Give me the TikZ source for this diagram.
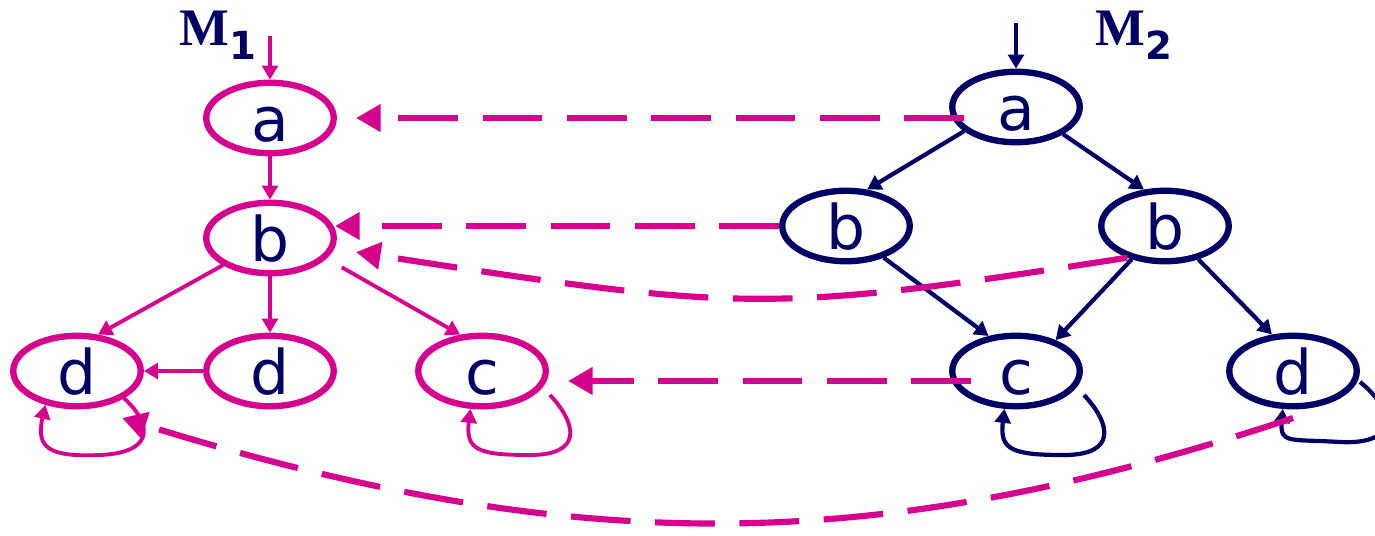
\documentclass[tikz,border=0pt]{standalone}
\usepackage{fontspec}
\setmainfont{Liberation Serif}
\newfontfamily\statefont{DejaVu Sans}
\usetikzlibrary{shapes.geometric,arrows.meta}
\definecolor{kmag}{RGB}{214,0,143}
\definecolor{knavy}{RGB}{0,0,100}

\begin{document}
\begin{tikzpicture}[x=0.02cm,y=-0.02cm,
        state/.style={ellipse,line width=3.6pt,minimum width=2.55cm,minimum height=1.41cm,inner sep=0pt,
            text height=27pt,text depth=0pt,text=knavy,font=\statefont\fontsize{35}{35}\selectfont},
        lstate/.style={state,draw=kmag},
        rstate/.style={state,draw=knavy},
        ledge/.style={kmag,line width=2.2pt,-{Triangle[length=8pt,width=9pt]}},
        redge/.style={knavy,line width=2.4pt,-{Triangle[length=8pt,width=9pt]}},
        match/.style={kmag,line width=3.5pt,dash pattern=on 34pt off 14pt,-{Triangle[length=14pt,width=15pt]}},
        mlabel/.style={anchor=base west,text=knavy,inner sep=0pt,font=\bfseries\fontsize{30}{30}\selectfont}]
    \useasboundingbox (0,0) rectangle (1375,535);
    \clip (0,0) rectangle (1375,535);

    % the two machines
    \foreach \n/\x/\y/\t in {la/270/118/a,lb/270/238/b,ld1/77/371/d,ld2/270/371/d,lc/482/371/c}
        \node[lstate] (\n) at (\x,\y) {\t};
    \foreach \n/\x/\y/\t in {ra/1016/107/a,rb1/846/226/b,rb2/1165/226/b,rc/1016/371/c,rd/1293/371/d}
        \node[rstate] (\n) at (\x,\y) {\t};

    \node[mlabel] (m1) at (179,45) {M\raisebox{-8.5pt}{\statefont\fontsize{22}{22}\selectfont 1}};
    \node[mlabel] (m2) at (1095,45) {M\raisebox{-8.5pt}{\statefont\fontsize{22}{22}\selectfont 2}};
    \coordinate (in1) at (270,36);
    \coordinate (in2) at (1016,23);

    \draw[ledge] (in1) -- (la);
    \draw[ledge] (la) -- (lb);
    \draw[ledge] (lb.-150) -- (ld1.60);
    \draw[ledge] (lb) -- (ld2);
    \draw[ledge,shorten <=10pt] (lb.-20) -- (lc.121);
    \draw[ledge] (ld2) -- (ld1);

    \draw[redge] (in2) -- (ra);
    \draw[redge] (ra.-155) -- (rb1.60);
    \draw[redge] (ra.-30) -- (rb2.120);
    \draw[redge] (rb1.-40) -- (rc.128);
    \draw[redge] (rb2.-135) -- (rc.38);
    \draw[redge] (rb2.-45) -- (rd.120);

    % self loops
    \draw[ledge] (ld1.-30) .. controls +(32,30) and +(50,-2) .. ([shift={(23,84)}]ld1.center)
        .. controls +(-50,2) and +(-10,44) .. (ld1.-133);
    \foreach \n/\s in {lc/ledge,rc/redge}
        \draw[\s] ([shift={(68,24)}]\n.center) .. controls +(28,30) and +(52,0) .. ([shift={(48,84)}]\n.center)
            .. controls +(-52,0) and +(-5,41) .. (\n.-107);
    \draw[redge] ([shift={(67,11)}]rd.center) .. controls +(35,28) and +(60,3) .. ([shift={(47,71)}]rd.center)
        .. controls +(-50,-3) and +(-3,35) .. (rd.-105);

    % simulation
    \draw[match] ([shift={(15,11)}]ra.west) -- ([shift={(86,0)}]la.center);
    \draw[match] (rb1.west) -- ([shift={(65,-12)}]lb.center);
    \draw[match] (rb2.-140) .. controls +(-358,56) and +(387,60) .. ([shift={(86,14)}]lb.center);
    \draw[match] ([shift={(22,10)}]rc.west) -- ([shift={(86,10)}]lc.center);
    \draw[match] ([shift={(0,47)}]rd.center) .. controls +(-413,137) and +(458,142) .. ([shift={(45,47)}]ld1.center);
\end{tikzpicture}
\end{document}
